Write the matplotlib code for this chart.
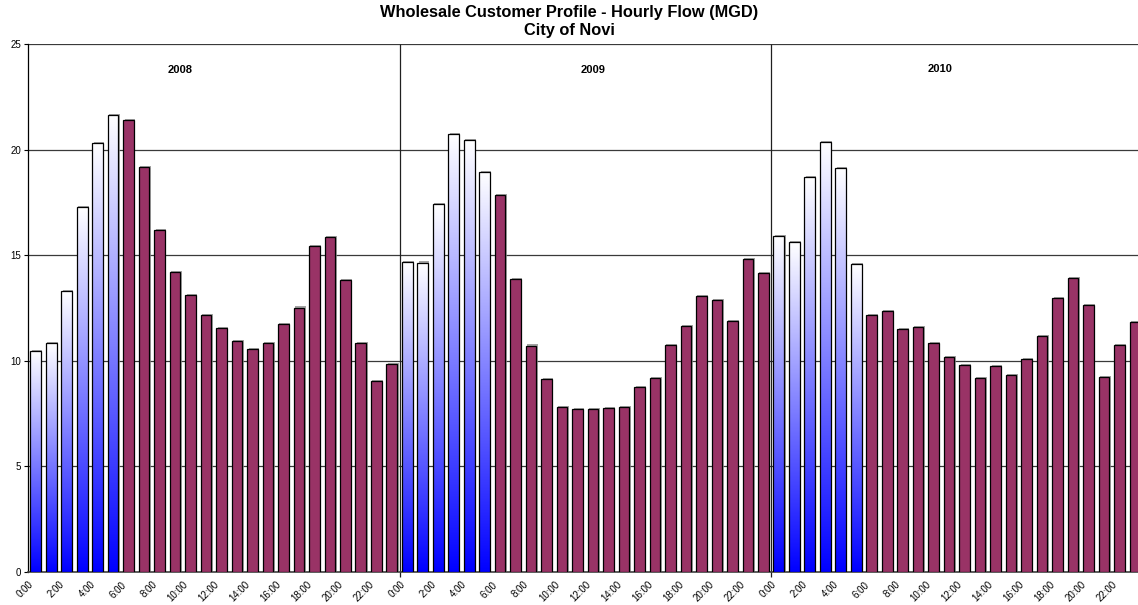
import numpy as np
import matplotlib
matplotlib.use("Agg")
import matplotlib.pyplot as plt
import matplotlib.patheffects as pe
from matplotlib.transforms import ScaledTranslation

# Hourly wholesale flow (MGD) for each year, hours 0:00 - 23:00
years = ["2008", "2009", "2010"]
hours = [f"{h}:00" for h in range(24)]

flow_2008 = [10.48, 10.83, 13.32, 17.27, 20.33, 21.65, 21.38, 19.18, 16.19, 14.22, 13.10, 12.15,
             11.55, 10.92, 10.54, 10.83, 11.74, 12.52, 15.42, 15.85, 13.84, 10.83, 9.03, 9.83]
flow_2009 = [14.69, 14.65, 17.41, 20.74, 20.44, 18.95, 17.83, 13.87, 10.72, 9.12, 7.83, 7.73,
             7.70, 7.75, 7.80, 8.74, 9.20, 10.73, 11.65, 13.07, 12.88, 11.87, 14.82, 14.16]
flow_2010 = [15.92, 15.61, 18.70, 20.36, 19.11, 14.57, 12.15, 12.36, 11.51, 11.60, 10.86, 10.16,
             9.79, 9.17, 9.77, 9.34, 10.10, 11.16, 12.96, 13.90, 12.64, 9.25, 10.73, 11.85]

# early-morning hours drawn with the gradient fill
night_hours = 6

plt.rcParams["font.family"] = ["Liberation Sans", "DejaVu Sans"]

W, H = 1138, 605
fig = plt.figure(figsize=(W / 100, H / 100), dpi=100)
ax = fig.add_axes([28 / W, (H - 572) / H, 1114.6 / W, (572 - 44) / H])

values = flow_2008 + flow_2009 + flow_2010
x = np.arange(len(values))
bar_w = 0.69
maroon = "#993366"

shadow = [pe.SimplePatchShadow(offset=(1.0, 0.8), shadow_rgbFace="#8c8c8c", alpha=0.8), pe.Normal()]

grad = np.linspace(0, 1, 256).reshape(-1, 1)
cmap = matplotlib.colors.LinearSegmentedColormap.from_list("wb", ["#0000ff", "#ffffff"])

for i, v in enumerate(values):
    hour = i % 24
    if hour < night_hours:
        # white base with shadow, gradient image on top, then the outline
        base = ax.bar(x[i], v, width=bar_w, facecolor="white", edgecolor="none", zorder=3)[0]
        base.set_path_effects(shadow)
        img = ax.imshow(grad, cmap=cmap, origin="lower", aspect="auto",
                        extent=[x[i] - bar_w / 2, x[i] + bar_w / 2, 0, v], zorder=3.1,
                        interpolation="bilinear")
        img.set_clip_path(base)
        ax.bar(x[i], v, width=bar_w, facecolor="none", edgecolor="black",
               linewidth=0.9, zorder=3.2)
    else:
        bar = ax.bar(x[i], v, width=bar_w, facecolor=maroon, edgecolor="black",
                     linewidth=0.9, zorder=3)[0]
        bar.set_path_effects(shadow)

ax.set_xlim(-0.5, len(values) - 0.5)
ax.set_ylim(0, 25)

# horizontal grid
for g in [5, 10, 15, 20, 25]:
    ax.axhline(g, color="#3a3a3a", linewidth=0.9, zorder=1)

# year separators
for b in [23.5, 47.5]:
    ax.vlines(b, -0.25, 25, color="#202020", linewidth=0.9, zorder=1, clip_on=False)

year_pos = [(9.3, 23.75), (36.0, 23.75), (58.4, 23.82)]
for name, (xp, yp) in zip(years, year_pos):
    ax.text(xp, yp, name, ha="center", va="center", fontsize=8, fontweight="bold")

for s in ["top", "right"]:
    ax.spines[s].set_visible(False)
ax.spines["left"].set_linewidth(0.9)
ax.spines["bottom"].set_color("#404040")
ax.spines["bottom"].set_linewidth(1.2)

ax.set_yticks([0, 5, 10, 15, 20, 25])
ax.tick_params(axis="y", length=3, width=0.8, labelsize=7, pad=2)

tick_pos = x[::2]
tick_lab = [hours[i % 24] for i in tick_pos]
ax.set_xticks(tick_pos)
ax.set_xticklabels(tick_lab, rotation=45, ha="right", va="center", rotation_mode="anchor",
                   fontsize=7)
ax.tick_params(axis="x", length=0, pad=8)
shift = ScaledTranslation(-4 / 100, 0, fig.dpi_scale_trans)
for lab in ax.get_xticklabels():
    lab.set_transform(lab.get_transform() + shift)

fig.text(0.5, 1 - 12 / H, "Wholesale Customer Profile - Hourly Flow (MGD)", ha="center",
         va="center", fontsize=11.8, fontweight="bold")
fig.text(0.5, 1 - 31 / H, "City of Novi", ha="center", va="center", fontsize=11.8,
         fontweight="bold")

fig.savefig("out.png", dpi=100)
